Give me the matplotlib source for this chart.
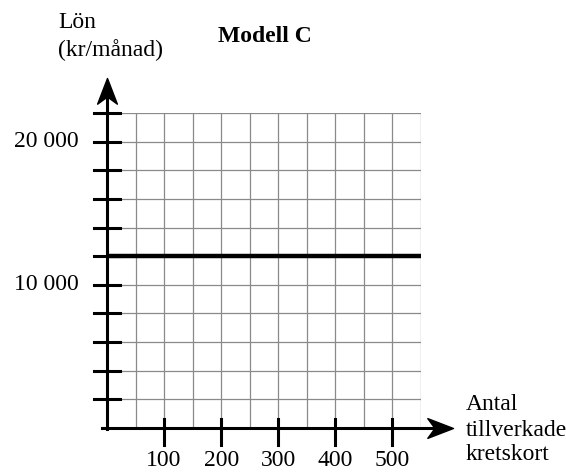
import matplotlib
matplotlib.use("Agg")
import matplotlib.pyplot as plt
from matplotlib.path import Path
import numpy as np

plt.rcParams['font.family'] = ['Liberation Serif', 'DejaVu Serif']

# Modell C: fixed salary, independent of production
x_line = [0, 550]
lon = [12000, 12000]

x_ticks = [100, 200, 300, 400, 500]
x_labels = ['100', '200', '300', '400', '500']
y_ticks = list(range(2000, 22001, 2000))
y_labels = {10000: '10 000', 20000: '20 000'}

W, H = 566, 474
fig = plt.figure(figsize=(W / 100, H / 100), dpi=100)

def px(x, y):
    return x / W, 1 - y / H

# axes area = grid area, pixels 107..421 x 113..428
ax = fig.add_axes([107 / W, (H - 428) / H, 314 / W, 315 / H])
ax.set_xlim(0, 550)
ax.set_ylim(0, 22000)
for s in ax.spines.values():
    s.set_visible(False)
ax.set_xticks([])
ax.set_yticks([])

xu = 550 / 314      # data units per pixel
yu = 22000 / 315

# grid
for gx in np.arange(50, 551, 50):
    ax.plot([gx, gx], [0, 22000], color='#8a8a8a', lw=0.9, zorder=1)
for gy in np.arange(2000, 22001, 2000):
    ax.plot([0, 550], [gy, gy], color='#8a8a8a', lw=0.9, zorder=1)

# the salary line
ax.plot(x_line, lon, color='black', lw=3.2, solid_capstyle='butt', zorder=3,
        clip_on=False)

# barbed arrow heads, tip at (0, 0)
w, n = 0.385, 0.72
head_right = Path([(0, 0), (-1, w), (-n, 0), (-1, -w), (0, 0)],
                  [1, 2, 2, 2, 79])
head_up = Path([(0, 0), (-w, -1), (0, -n), (w, -1), (0, 0)],
               [1, 2, 2, 2, 79])

x_tip, y_tip = 346 * xu, 350 * yu
ax.plot([-5 * xu, x_tip - 20 * xu], [0, 0], color='black', lw=2.2,
        clip_on=False, zorder=4)
ax.plot([0, 0], [-1 * yu, y_tip - 20 * yu], color='black', lw=2.2,
        clip_on=False, zorder=4)
ax.plot([x_tip], [0], marker=head_right, ms=37, color='black',
        clip_on=False, zorder=5)
ax.plot([0], [y_tip], marker=head_up, ms=37, color='black',
        clip_on=False, zorder=5)

# y ticks (cross the axis)
for t in y_ticks:
    ax.plot([-13 * xu, 13 * xu], [t, t], color='black', lw=2.2,
            clip_on=False, zorder=4)
    if t in y_labels:
        ax.text(-28 * xu, t, y_labels[t], ha='right', va='center', fontsize=17)

# x ticks
for t, lab in zip(x_ticks, x_labels):
    ax.plot([t, t], [-17 * yu, 9 * yu], color='black', lw=2.2,
            clip_on=False, zorder=4)
    ax.text(t, -33 * yu, lab, ha='center', va='center', fontsize=17)

fig.text(*px(58, 22), 'Lön', ha='left', va='center', fontsize=17)
fig.text(*px(58, 50), '(kr/månad)', ha='left', va='center', fontsize=17)
fig.text(*px(265, 36), 'Modell C', ha='center', va='center', fontsize=17,
         fontweight='bold')
fig.text(*px(466, 404), 'Antal', ha='left', va='center', fontsize=17)
fig.text(*px(466, 430), 'tillverkade', ha='left', va='center', fontsize=17)
fig.text(*px(466, 455), 'kretskort', ha='left', va='center', fontsize=17)

fig.savefig('out.png', dpi=100)
